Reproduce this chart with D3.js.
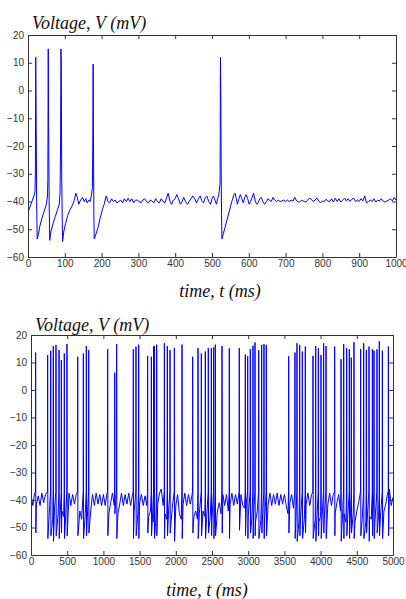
<!DOCTYPE html>
<html>
<head>
<meta charset="utf-8">
<script src="https://cdn.jsdelivr.net/npm/d3@7"></script>
<style>
  body { margin: 0; background: #fff; }
  .tick text { font-family: "Liberation Sans", Arial, sans-serif; font-size: 10px; fill: #333; }
  .tick line, .domain { stroke: #333; }
  .title { font-family: "Liberation Serif", "Times New Roman", serif; font-style: italic; font-size: 18px; fill: #111; }
</style>
</head>
<body>
<div id="chart"></div>
<script>
// Top trace, 0-1000 ms (time, voltage)
const topT = [0,4,8,12,16,19,20,21,22,23.5,25,28,32,38,44,50,53,54,55,56,57.5,59,62,68,74,80,85,87,88.5,89.5,90.5,91.5,93,94,97,102,108,114,120,126,130,134,138,143,148,153,157,161,165,169,172,175,176,177,178,179,180,184,190,196,202,207,211,213,217,222,227,232,237,242,247,252,257,262,267,272,277,282,287,292,297,302,307,312,317,322,327,332,337,342,347,352,357,362,367,372,377,381,386,390,395,400,404,409,414,419,423,428,433,438,443,448,453,458,463,468,473,477,482,486,491,496,500,504,508,512,515,518,520,522,523,524,525,526,527,530,535,540,545,550,555,560,563,566,569,573,577,581,585,589,593,597,601,605,609,613,617,621,625,630,634,638,643,648,652,656,661,666,670,675,680,685,690,695,700,705,710,715,720,725,730,735,740,745,750,755,760,765,770,775,780,785,790,795,800,805,810,815,820,825,830,835,840,845,850,855,860,865,870,875,880,885,890,895,900,905,910,915,920,925,930,935,940,945,950,955,960,965,970,975,980,985,990,995,1000];
const topV = [-44,-42.5,-41,-39.5,-38,-36.5,-30,12,-8,-40,-53.5,-52,-49,-46,-43.5,-41,-38,-32,15,-12,-40,-54,-51,-48,-45.5,-43,-41,-37,-20,15,10,-30,-46,-54.5,-51,-48,-45,-43,-41.5,-39.5,-37,-38.5,-41,-39.5,-38.5,-40,-39,-40.5,-39.5,-40,-38,-35,-20,9.5,-20,-45,-53.5,-52,-49.5,-46,-43,-41,-38.5,-38,-40,-40.5,-39,-40,-39.5,-40.5,-40,-39.5,-40.5,-39,-40,-38.8,-40,-39,-40.5,-39.5,-39.5,-40,-40.5,-39.5,-39,-40,-40.5,-39.5,-39.8,-40.5,-39,-40,-40.5,-39,-40,-40.5,-38.5,-37,-40,-41,-39.5,-39,-37.5,-39,-41,-40,-38.5,-40,-41,-40,-39,-38,-39,-40.5,-39,-38,-40,-40.5,-38.5,-38,-40,-41,-39,-38,-39.5,-41,-39,-38,-36,-33,12,-2,-30,-45,-53.5,-52,-49.5,-47,-44.5,-42,-39.5,-37.5,-37,-39,-41,-39,-37.5,-39,-40.5,-38.5,-37.5,-39,-41,-40,-38.5,-37,-39.5,-41,-40.5,-39,-38.5,-40,-41,-40,-39,-39.5,-40,-38.5,-39.5,-40,-39.5,-40,-39.8,-39.5,-40,-39.5,-40,-39.5,-39.8,-38.5,-39.8,-40.2,-40,-39.5,-40,-40.2,-39.5,-38.8,-39.2,-40,-39.5,-38.8,-39.8,-40.5,-39.8,-40,-39.2,-39.8,-40,-39,-40.2,-38.8,-40,-39,-40.2,-39.5,-38.8,-39.8,-39,-40,-39.2,-38.8,-40,-39.5,-40,-39,-39.8,-38,-40.5,-40,-39.5,-40,-39,-40.2,-39.5,-39.8,-39,-39.8,-40.2,-39.8,-39.5,-39,-39.8,-38.5,-39.5];

// Bottom trace, 0-5000 ms: spikes (time, peak, trough) and resting level every 25 ms
const spikeT = [64,230,272,308,345,387,419,460,497,645,723,764,797,1059,1156,1183,1413,1450,1487,1611,1662,1694,1703,1736,1842,1883,1920,1980,2086,2233,2307,2353,2408,2449,2491,2523,2546,2638,2739,2877,2960,2993,3029,3066,3094,3145,3186,3218,3250,3559,3646,3674,3711,3748,3789,3895,3932,3969,4006,4042,4075,4194,4282,4319,4360,4397,4424,4461,4553,4595,4632,4669,4715,4738,4779,4811,4853,4936];
const spikePeak = [13.6,12.7,14.3,16,16.4,14.5,10.9,13.3,16.7,12.1,13.3,16,14.5,14.8,6.3,16.7,14.8,15.8,16.5,12.4,12.1,15.8,16,16.5,17,16,14.5,15.2,16.5,12.1,15.2,13.3,14,15.2,15.2,15.5,16.5,16,15.2,15.2,12.9,12.3,14.9,16.1,17.3,14.5,16.4,16.7,16.4,12.3,13.6,17,16.4,14,15.8,12.4,16,15.2,12.7,17,16,15.8,11.2,16.7,15.2,14.8,11.8,17.4,14.9,17,14.5,15.8,14.8,14.3,14.8,17.7,14.3,15.8];
const spikeTrough = [-52,-54,-53,-55,-53,-54,-52,-54,-53,-53,
  -54,-53,-52,-53,-45,-54,-54,-53,-54,-52,
  -53,-48,-54,-53,-54,-53,-52,-55,-54,-52,
  -54,-53,-54,-52,-53,-54,-53,-52,-54,-51,
  -53,-54,-52,-54,-53,-54,-52,-54,-53,-52,
  -54,-55,-53,-54,-52,-54,-55,-53,-54,-52,
  -54,-53,-55,-54,-53,-54,-52,-54,-53,-54,
  -52,-55,-53,-54,-52,-53,-54,-53];
const restStep = 25;
const restV = [
  -38,-42,-37.5,-41.5,-38.5,-42,-37.5,-41,-38,-42,-46,-44,-47,-43,-48,-45,-47,-44,-46,-48,
  -41.5,-37.5,-42,-38,-41.5,-38,-41,-44,-47,-42,-45,-48,-46,-44,-38,-42,-37.5,-41.5,-38,-42,
  -38,-42,-37.5,-45,-41,-37.5,-42,-38,-45,-41.5,-37.5,-42,-38,-41.5,-37.5,-42,-38.5,-44,-47,-45,
  -41,-38,-42,-38.5,-42,-46,-44,-48,-45,-47,-41.5,-37.5,-36,-42,-45,-47,-44,-46,-43,-48,
  -42,-38,-45,-47,-41.5,-37.5,-42,-38,-41.5,-38,-46,-44,-47,-45,-48,-44,-46,-47,-45,-46,
  -47,-45,-48,-44,-41,-45,-38,-42,-38,-44,-41.5,-37.5,-42,-38,-41.5,-44,-38,-42,-43,-41,
  -46,-44,-47,-45,-48,-44,-46,-47,-45,-48,-44,-41.5,-37.5,-42,-38,-41.5,-37.5,-42,-38,-41.5,
  -38,-42,-45,-41,-38,-43,-47,-45,-48,-46,-44,-47,-41.5,-37.5,-42,-38,-45,-47,-46,-48,
  -46,-44,-47,-45,-41.5,-37.5,-42,-38,-45,-41,-38,-44,-47,-45,-48,-46,-44,-47,-45,-48,
  -44,-41,-46,-47,-45,-48,-44,-46,-47,-45,-48,-44,-46,-47,-45,-44,-41.5,-37.5,-36,-42,
  -39];

const yTicks = [-60,-50,-40,-30,-20,-10,0,10,20];
const topXTicks = [0,100,200,300,400,500,600,700,800,900,1000];
const bottomXTicks = [0,500,1000,1500,2000,2500,3000,3500,4000,4500,5000];

const svg = d3.select("#chart")
    .append("svg")
    .attr("width", 406)
    .attr("height", 599);

// Build the bottom trace from the rest samples and the spike events
const bottomData = [];
restV.forEach((v, i) => {
    const t = i * restStep;
    if (!spikeT.some(s => Math.abs(s - t) < 6)) bottomData.push([t, v]);
});
spikeT.forEach((s, i) => {
    bottomData.push([s - 2, -37]);
    bottomData.push([s, spikePeak[i]]);
    bottomData.push([s + 3, spikeTrough[i]]);
});
bottomData.sort((a, b) => a[0] - b[0]);

const topData = topT.map((t, i) => [t, topV[i]]);

function panel(id, box, xMax, xTicks, data, titleY, xlabelX, xlabelY) {
    const x = d3.scaleLinear().domain([0, xMax]).range([box.left, box.right]);
    const y = d3.scaleLinear().domain([-60, 20]).range([box.bottom, box.top]);

    svg.append("clipPath").attr("id", id)
        .append("rect")
        .attr("x", box.left).attr("y", box.top)
        .attr("width", box.right - box.left).attr("height", box.bottom - box.top);

    svg.append("path")
        .datum(data)
        .attr("clip-path", `url(#${id})`)
        .attr("fill", "none")
        .attr("stroke", "#0000ff")
        .attr("stroke-width", 1)
        .attr("d", d3.line().x(d => x(d[0])).y(d => y(d[1])));

    // Axes with inward ticks on all four sides
    svg.append("g")
        .attr("transform", `translate(0,${box.bottom})`)
        .call(d3.axisBottom(x).tickValues(xTicks).tickFormat(d3.format("d")).tickSizeInner(-4).tickSizeOuter(0).tickPadding(3));
    svg.append("g")
        .attr("transform", `translate(0,${box.top})`)
        .call(d3.axisTop(x).tickValues(xTicks).tickFormat("").tickSizeInner(-4).tickSizeOuter(0));
    svg.append("g")
        .attr("transform", `translate(${box.left},0)`)
        .call(d3.axisLeft(y).tickValues(yTicks).tickFormat(d3.format("d")).tickSizeInner(-4).tickSizeOuter(0).tickPadding(4));
    svg.append("g")
        .attr("transform", `translate(${box.right},0)`)
        .call(d3.axisRight(y).tickValues(yTicks).tickFormat("").tickSizeInner(-4).tickSizeOuter(0));

    svg.append("text").attr("class", "title")
        .attr("x", box.left + 4).attr("y", titleY)
        .text("Voltage, V (mV)");
    svg.append("text").attr("class", "title")
        .attr("x", xlabelX).attr("y", xlabelY)
        .attr("text-anchor", "middle")
        .text("time, t (ms)");
}

panel("clipTop", { left: 28, right: 396, top: 35, bottom: 257 }, 1000, topXTicks, topData, 29, 220, 297);
panel("clipBottom", { left: 31, right: 393, top: 335, bottom: 555 }, 5000, bottomXTicks, bottomData, 331, 207, 596);
</script>
</body>
</html>
